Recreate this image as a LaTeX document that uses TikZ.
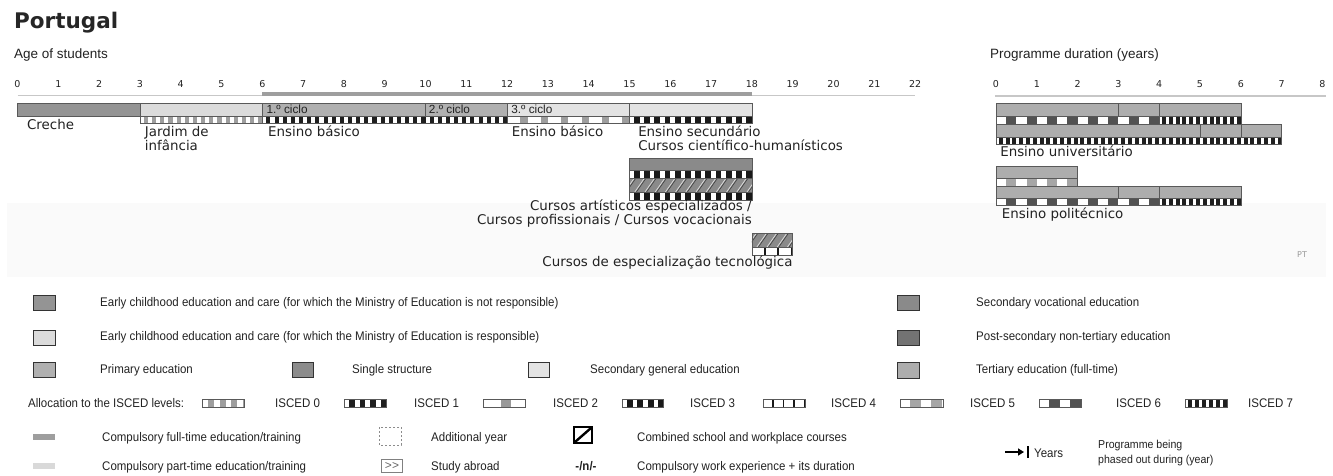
\documentclass[tikz,border=0pt]{standalone}
\usepackage{fontspec}
\setmainfont{Liberation Sans}
\newfontfamily\chartfont{DejaVu Sans}
\newfontfamily\keyfont{Liberation Sans}[FakeStretch=0.92]
\usetikzlibrary{arrows.meta}

\definecolor{txt}{HTML}{222222}
\colorlet{ececout}{black!42}
\colorlet{ececin}{black!14}
\colorlet{prim}{black!31}
\colorlet{single}{black!45}
\colorlet{secgen}{black!11}
\colorlet{voc}{black!46}
\colorlet{postsec}{black!55}
\colorlet{tert}{black!32}
\colorlet{compfull}{black!38}
\colorlet{comppart}{black!15}

% white strip with blocks: x0, x1, top, bottom, colour, blocks per unit, block share
\newcommand{\iscedbar}[7]{%
  \fill[white] (#1,#3) rectangle (#2,#4);
  \begin{scope}
    \clip (#1,#3) rectangle (#2,#4);
    \pgfmathtruncatemacro{\nblk}{ceil((#2-#1)*#6)}
    \foreach \k in {1,...,\nblk}
      \fill[#5] ({#1+(\k-#7)/#6},#3) rectangle ({#1+\k/#6},#4);
  \end{scope}
  \draw[frame] (#1,#3) rectangle (#2,#4);}

% school + workplace bar: x0, x1, top, bottom
\newcommand{\hatchbar}[4]{%
  \fill[voc] (#1,#3) rectangle (#2,#4);
  \begin{scope}
    \clip (#1,#3) rectangle (#2,#4);
    \pgfmathtruncatemacro{\nh}{ceil((#2-#1)*4)+1}
    \foreach \k in {0,...,\nh}{
      \draw[hatchdark] ({#1+\k/4-0.09},#4) -- ({#1+\k/4+0.15},#3);
      \draw[hatch] ({#1+\k/4-0.13},#4) -- ({#1+\k/4+0.11},#3);}
  \end{scope}
  \draw[frame] (#1,#3) rectangle (#2,#4);}

\begin{document}
\begin{tikzpicture}[x=1pt, y=-1pt,
  frame/.style={draw=black!65, line width=0.6pt},
  lab/.style={font=\chartfont\fontsize{13.4}{15}\selectfont, text=txt, inner sep=0pt, anchor=base west},
  num/.style={font=\chartfont\fontsize{9.5}{11}\selectfont, text=txt, inner sep=0pt, anchor=base},
  cyc/.style={font=\fontsize{11.8}{12}\selectfont, text=txt, inner sep=0pt, anchor=base west},
  head/.style={font=\fontsize{13.5}{16}\selectfont, text=txt, inner sep=0pt, anchor=base west},
  key/.style={font=\keyfont\fontsize{12.5}{14}\selectfont, text=txt, inner sep=0pt, anchor=base west},
  swatch/.style={draw=black!80, line width=1pt},
  axis/.style={draw=black!22, line width=1.2pt},
  hatch/.style={draw=black!12, line width=0.7pt},
  hatchdark/.style={draw=black!75, line width=0.6pt}
]
\useasboundingbox (0,0) rectangle (1333,475);

% faint band behind the lower programmes
\fill[black!2] (7,203) rectangle (1326,277);

% Headings
\node[font=\chartfont\bfseries\fontsize{21.5}{24}\selectfont, text=black!85, inner sep=0pt, anchor=base west]
  (title) at (14,28) {Portugal};
\node[head] (agehead) at (14,58.5) {Age of students};
\node[head] (durhead) at (990,58.5) {Programme duration (years)};

% Age axis (one unit = one year)
\begin{scope}[xshift=17.5pt, x=40.8pt]
\foreach \a in {0,...,22}
  \node[num] (age\a) at (\a,87.5) {\a};
\draw[axis] (0,95.5) -- (22,95.5);
\fill[compfull] (6,92) rectangle (18,96);

% Creche
\fill[ececout] (0,103) rectangle (3,116);
\draw[frame] (0,103) rectangle (3,116);
\node[lab] (creche) at (0.23,129.5) {Creche};

% Jardim de infancia
\fill[ececin] (3,103) rectangle (6,116);
\draw[frame] (3,103) rectangle (6,116);
\iscedbar{3}{6}{116}{123.5}{black!38}{5}{0.5}
\node[lab] (jardimA) at (3.12,136.5) {Jardim de};
\node[lab] (jardimB) at (3.12,150) {infância};

% Ensino basico, 1. and 2. ciclo
\fill[prim] (6,103) rectangle (12,116);
\draw[frame] (6,103) rectangle (10,116);
\draw[frame] (10,103) rectangle (12,116);
\iscedbar{6}{12}{116}{123.5}{black!88}{5}{0.5}
\node[cyc] (ciclo1) at (6.1,113.5) {1.º ciclo};
\node[cyc] (ciclo2) at (10.08,113.5) {2.º ciclo};
\node[lab] (basicoA) at (6.14,136.5) {Ensino básico};

% Ensino basico, 3. ciclo
\fill[secgen] (12,103) rectangle (15,116);
\draw[frame] (12,103) rectangle (15,116);
\iscedbar{12}{15}{116}{123.5}{black!38}{2}{0.35}
\node[cyc] (ciclo3) at (12.1,113.5) {3.º ciclo};
\node[lab] (basicoB) at (12.11,136.5) {Ensino básico};

% Ensino secundario
\fill[secgen] (15,103) rectangle (18,116);
\draw[frame] (15,103) rectangle (18,116);
\iscedbar{15}{18}{116}{123.5}{black!90}{4}{0.55}
\node[lab] (secA) at (15.21,136.5) {Ensino secundário};
\node[lab] (secB) at (15.21,150) {Cursos científico-humanísticos};

% Vocational courses
\fill[voc] (15,158) rectangle (18,170);
\draw[frame] (15,158) rectangle (18,170);
\iscedbar{15}{18}{170}{178.5}{black!90}{4}{0.55}
\hatchbar{15}{18}{178.5}{192.5}
\iscedbar{15}{18}{192.5}{200}{black!90}{4}{0.55}
\node[lab, anchor=base east] (vocA) at (18,210.5) {Cursos artísticos especializados /};
\node[lab, anchor=base east] (vocB) at (18,224) {Cursos profissionais / Cursos vocacionais};

% Post-secondary
\hatchbar{18}{19}{233}{247}
\iscedbar{18}{19}{247}{255}{black!90}{3}{0.12}
\node[lab, anchor=base east] (cet) at (19,266) {Cursos de especialização tecnológica};
\end{scope}

% Duration axis (one unit = one year)
\begin{scope}[xshift=996pt, x=40.8pt]
\foreach \d in {0,...,8}
  \node[num] (dur\d) at (\d,87.5) {\d};
\draw[axis] (-0.03,96) -- (8.1,96);

% Ensino universitario
\fill[tert] (0,103) rectangle (6,116.5);
\foreach \a/\b in {0/3, 3/4, 4/6}
  \draw[frame] (\a,103) rectangle (\b,116.5);
\iscedbar{0}{4}{116.5}{124}{black!68}{2}{0.5}
\iscedbar{4}{6}{116.5}{124}{black!88}{6}{0.6}
\fill[tert] (0,124) rectangle (7,137);
\foreach \a/\b in {0/5, 5/6, 6/7}
  \draw[frame] (\a,124) rectangle (\b,137);
\iscedbar{0}{7}{137}{144.5}{black!88}{6}{0.6}
\node[lab] (univ) at (0.1,156.5) {Ensino universitário};

% Ensino politecnico
\fill[tert] (0,166) rectangle (2,178);
\draw[frame] (0,166) rectangle (2,178);
\iscedbar{0}{2}{178}{186}{black!35}{2}{0.5}
\fill[tert] (0,186) rectangle (6,198);
\foreach \a/\b in {0/3, 3/4, 4/6}
  \draw[frame] (\a,186) rectangle (\b,198);
\iscedbar{0}{4}{198}{205.5}{black!68}{2}{0.5}
\iscedbar{4}{6}{198}{205.5}{black!88}{6}{0.6}
\node[lab] (poli) at (0.14,218) {Ensino politécnico};
\end{scope}

\node[font=\chartfont\fontsize{8}{9}\selectfont, text=black!40, inner sep=0pt, anchor=base west]
  (pt) at (1297,257) {PT};

% Legend: colour keys
\filldraw[swatch, fill=ececout] (33,295) rectangle (55,310);
\node[key] (kA) at (100,306) {Early childhood education and care (for which the Ministry of Education is not responsible)};
\filldraw[swatch, fill=ececin] (33,330) rectangle (55,345);
\node[key] (kB) at (100,340) {Early childhood education and care (for which the Ministry of Education is responsible)};
\filldraw[swatch, fill=prim] (33,362) rectangle (55,377);
\node[key] (kC) at (100,373.5) {Primary education};
\filldraw[swatch, fill=single] (292,362) rectangle (313,377);
\node[key] (kD) at (352,373.5) {Single structure};
\filldraw[swatch, fill=secgen] (528,362) rectangle (549,377);
\node[key] (kE) at (590,373.5) {Secondary general education};
\filldraw[swatch, fill=voc] (897,295) rectangle (919,310);
\node[key] (kF) at (976,306) {Secondary vocational education};
\filldraw[swatch, fill=postsec] (897,330) rectangle (919,345);
\node[key] (kG) at (976,340) {Post-secondary non-tertiary education};
\filldraw[swatch, fill=tert] (897,362) rectangle (919,378);
\node[key] (kH) at (976,373.5) {Tertiary education (full-time)};

% Legend: ISCED levels
\node[key] (alloc) at (28,407) {Allocation to the ISCED levels:};
\iscedbar{202}{244}{399.5}{407}{black!38}{0.085}{0.5}
\node[key] (i0) at (275,407) {ISCED 0};
\iscedbar{344}{386}{399.5}{407}{black!88}{0.095}{0.5}
\node[key] (i1) at (414,407) {ISCED 1};
\iscedbar{483}{525}{399.5}{407}{black!40}{0.036}{0.35}
\node[key] (i2) at (553,407) {ISCED 2};
\iscedbar{622}{663}{399.5}{407}{black!90}{0.095}{0.55}
\node[key] (i3) at (690,407) {ISCED 3};
\iscedbar{763}{805}{399.5}{407}{black!90}{0.095}{0.12}
\node[key] (i4) at (831,407) {ISCED 4};
\iscedbar{900}{943}{399.5}{407}{black!35}{0.048}{0.5}
\node[key] (i5) at (970,407) {ISCED 5};
\iscedbar{1039}{1081}{399.5}{407}{black!68}{0.048}{0.5}
\node[key] (i6) at (1116,407) {ISCED 6};
\iscedbar{1185}{1227}{399.5}{407}{black!88}{0.143}{0.6}
\node[key] (i7) at (1248,407) {ISCED 7};

% Legend: other signs
\fill[compfull] (33,434) rectangle (55,440);
\node[key] (kfull) at (102,441) {Compulsory full-time education/training};
\fill[comppart] (33,463) rectangle (55,469);
\node[key] (kpart) at (102,470.5) {Compulsory part-time education/training};
\draw[black!45, dash pattern=on 2pt off 2pt] (379,427) rectangle (401,445);
\node[key] (kadd) at (431,441) {Additional year};
\node[draw=black!50, line width=0.6pt, text=black!60, font=\fontsize{12}{12}\selectfont,
  inner sep=0.5pt, minimum width=21pt, minimum height=13pt] (kabr) at (392,466) {>\kern0.3pt>};
\node[key] (kabroad) at (431,470.5) {Study abroad};
\filldraw[draw=black, fill=white, line width=1.5pt] (574,427) rectangle (592,443);
\draw[line width=2.4pt] (575,442) -- (591,428);
\node[key] (kcomb) at (637,441) {Combined school and workplace courses};
\node[key, font=\keyfont\bfseries\fontsize{12.5}{14}\selectfont, anchor=base] (kn) at (586,470.5) {-/n/-};
\node[key] (kwork) at (637,470.5) {Compulsory work experience + its duration};
\draw[line width=1.8pt, -{Triangle[length=6pt, width=7pt]}] (1005,452) -- (1024,452);
\draw[line width=2pt] (1028,446) -- (1028,458);
\node[key] (kyears) at (1034,457) {Years};
\node[key, font=\keyfont\fontsize{11.5}{14}\selectfont] (kphaseA) at (1098,448) {Programme being};
\node[key, font=\keyfont\fontsize{11.5}{14}\selectfont] (kphaseB) at (1098,463) {phased out during (year)};
\end{tikzpicture}
\end{document}
